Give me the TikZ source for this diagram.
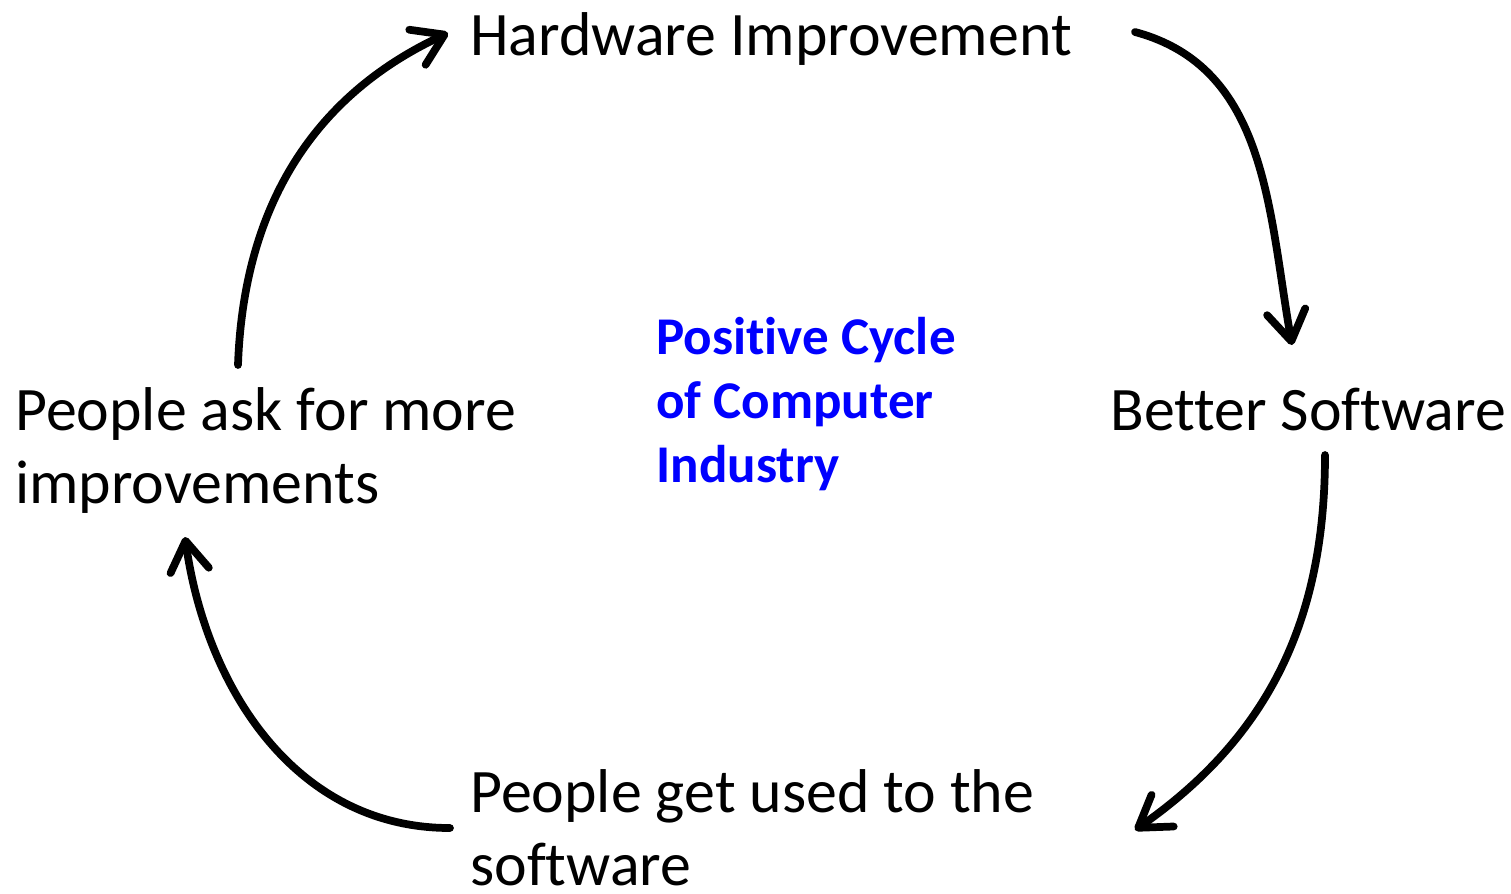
\documentclass[tikz,border=0pt]{standalone}
\usepackage{fontspec}
\setmainfont{Carlito}[Ligatures=CommonOff]
\usetikzlibrary{arrows.meta}

\begin{document}
\begin{tikzpicture}[x=0.02cm, y=-0.02cm,
    stage/.style={anchor=base west, inner sep=0pt, align=left,
      font=\fontsize{35.2}{41.5}\selectfont},
    title/.style={anchor=base west, inner sep=0pt, align=left,
      text=blue, font=\fontsize{30.2}{36.4}\selectfont\bfseries},
    cyc/.style={line width=4.4pt, line cap=round,
      -{Straight Barb[length=17pt, width=22pt, line width=4.4pt, round]}}]

    % --- Frame (reference size in px) ---
    \useasboundingbox (0,0) rectangle (1511,893);

    % --- Stages of the cycle ---
    \node[stage] (hw) at (470,55) {Hardware Improvement};
    \node[stage] (sw) at (1110,430) {Better Software};
    \node[stage] (used) at (470,885) {People get used to the\\software};
    \node[stage] (ask) at (15,503) {People ask for more\\improvements};

    % --- Centre label ---
    \node[title] (mid) at (656,482) {Positive Cycle\\of Computer\\Industry};

    % --- Arrows round the cycle ---
    \draw[cyc] ([shift={(223,-138)}]ask.base west)
        to[out=88, in=205] ([shift={(-22,-22)}]hw.base west);
    \draw[cyc] ([shift={(63,-23)}]hw.base east)
        to[out=-15, in=100] ([shift={(182,-85)}]sw.base west);
    \draw[cyc] ([shift={(215,25)}]sw.base west)
        to[out=-90, in=35] ([shift={(665,-55)}]used.base west);
    \draw[cyc] ([shift={(-20,-57)}]used.base west)
        to[out=180, in=-82] ([shift={(170,34)}]ask.base west);

\end{tikzpicture}
\end{document}
